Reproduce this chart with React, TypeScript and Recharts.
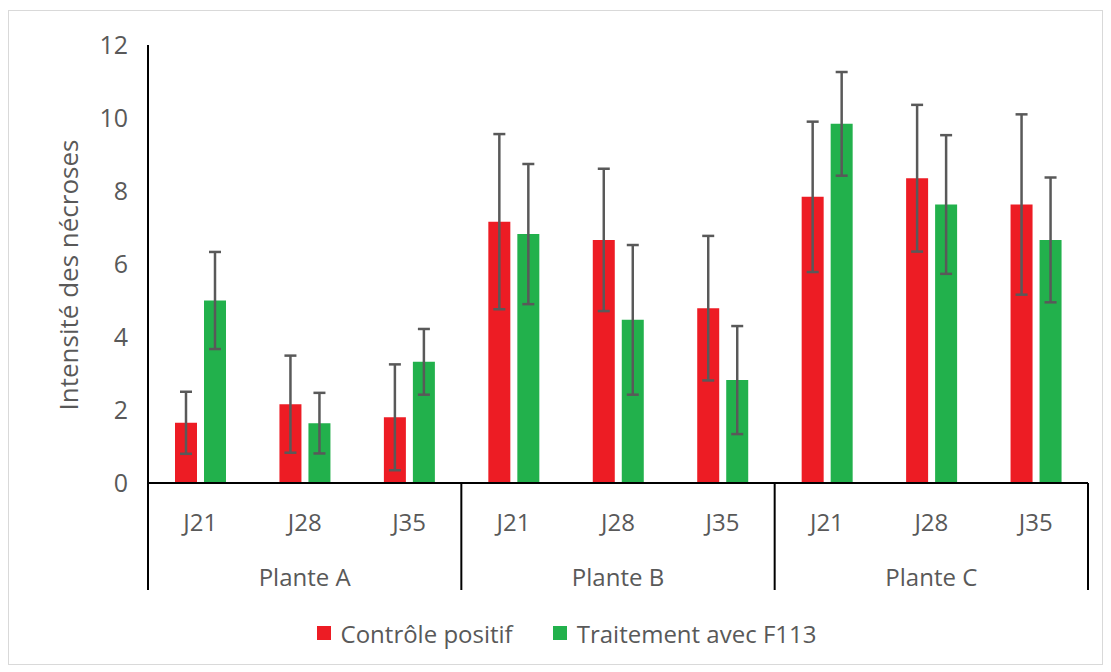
import { Bar, BarChart, ErrorBar, Legend, XAxis, YAxis } from "recharts";

const plants = ["Plante A", "Plante B", "Plante C"];
const days = ["J21", "J28", "J35"];
const controle = [1.65, 2.16, 1.8, 7.16, 6.66, 4.79, 7.84, 8.35, 7.63];
const controleErr = [0.85, 1.33, 1.45, 2.4, 1.95, 1.98, 2.06, 2.01, 2.47];
const traitement = [5.0, 1.64, 3.32, 6.82, 4.47, 2.82, 9.84, 7.63, 6.66];
const traitementErr = [1.33, 0.83, 0.9, 1.92, 2.05, 1.48, 1.42, 1.9, 1.71];
const yTicks = [0, 2, 4, 6, 8, 10, 12];

const data = plants.flatMap((plant, p) =>
  days.map((day, d) => {
    const i = p * 3 + d;
    return {
      plant,
      day,
      controle: controle[i],
      controleErr: controleErr[i],
      traitement: traitement[i],
      traitementErr: traitementErr[i],
    };
  })
);

const FONT = "'Open Sans', sans-serif";
const GREY = "#595959";
const DAY_AXIS_H = 55;
const PLANT_AXIS_H = 75;

const DayTick = (props: any) => {
  const { x, y, payload } = props;
  return (
    <text x={x} y={y + 38} textAnchor="middle" dominantBaseline="central" fill={GREY} fontSize={24} fontFamily={FONT}>
      {payload.value}
    </text>
  );
};

const PlantTick = (props: any) => {
  const { x, y, payload, index, visibleTicksCount } = props;
  const half = payload.offset || 156.7;
  const top = y - DAY_AXIS_H;
  const bottom = y + 52;
  const last = index === (visibleTicksCount ?? 3) - 1;
  return (
    <g>
      <line x1={x - half} x2={x - half} y1={top} y2={bottom} stroke="#000" strokeWidth={2} />
      {last && <line x1={x + half} x2={x + half} y1={top} y2={bottom} stroke="#000" strokeWidth={2} />}
      <text x={x} y={y + 38} textAnchor="middle" dominantBaseline="central" fill={GREY} fontSize={24} fontFamily={FONT}>
        {payload.value}
      </text>
    </g>
  );
};

const LegendContent = (props: any) => {
  const items = props.payload || [];
  return (
    <div
      style={{
        display: "flex",
        justifyContent: "center",
        alignItems: "center",
        height: 40,
        paddingLeft: 22,
        fontFamily: FONT,
        fontSize: 24,
        color: GREY,
      }}
    >
      {items.map((it: any, i: number) => (
        <div key={i} style={{ display: "flex", alignItems: "center", marginLeft: i ? 40 : 0 }}>
          <span style={{ width: 14, height: 14, background: it.color, marginRight: 10, display: "inline-block" }} />
          <span>{it.value}</span>
        </div>
      ))}
    </div>
  );
};

export default function App() {
  return (
    <div style={{ marginTop: 2, width: 1093, height: 653, border: "1px solid #d9d9d9", background: "#fff" }}>
      <BarChart
        width={1093}
        height={653}
        data={data}
        margin={{ top: 34, right: 14, left: 59, bottom: 11 }}
        barSize={22}
        barGap={7}
      >
        <XAxis
          dataKey="day"
          height={DAY_AXIS_H}
          tickLine={false}
          tickSize={0}
          tickMargin={0}
          axisLine={{ stroke: "#000", strokeWidth: 2 }}
          tick={<DayTick />}
          interval={0}
        />
        <XAxis
          xAxisId="plant"
          dataKey="plant"
          allowDuplicatedCategory={false}
          height={PLANT_AXIS_H}
          tickLine={false}
          tickSize={0}
          tickMargin={0}
          axisLine={false}
          tick={<PlantTick />}
          interval={0}
        />
        <YAxis
          width={80}
          domain={[0, 12]}
          ticks={yTicks}
          tickLine={false}
          tickSize={0}
          tickMargin={20}
          axisLine={{ stroke: "#000", strokeWidth: 2 }}
          tick={{ fill: GREY, fontSize: 25, fontFamily: FONT }}
          label={{
            content: () => (
              <text
                x={59}
                y={264}
                transform="rotate(-90 59 264)"
                textAnchor="middle"
                dominantBaseline="central"
                fill={GREY}
                fontSize={26}
                fontFamily={FONT}
              >
                Intensité des nécroses
              </text>
            ),
          }}
        />
        <Legend verticalAlign="bottom" wrapperStyle={{ left: 0, width: 1093 }} content={<LegendContent />} />
        <Bar dataKey="controle" name="Contrôle positif" fill="#ED1C24" isAnimationActive={false}>
          <ErrorBar dataKey="controleErr" width={6} stroke={GREY} strokeWidth={2.5} direction="y" isAnimationActive={false} />
        </Bar>
        <Bar dataKey="traitement" name="Traitement avec F113" fill="#22B14C" isAnimationActive={false}>
          <ErrorBar dataKey="traitementErr" width={6} stroke={GREY} strokeWidth={2.5} direction="y" isAnimationActive={false} />
        </Bar>
      </BarChart>
    </div>
  );
}
